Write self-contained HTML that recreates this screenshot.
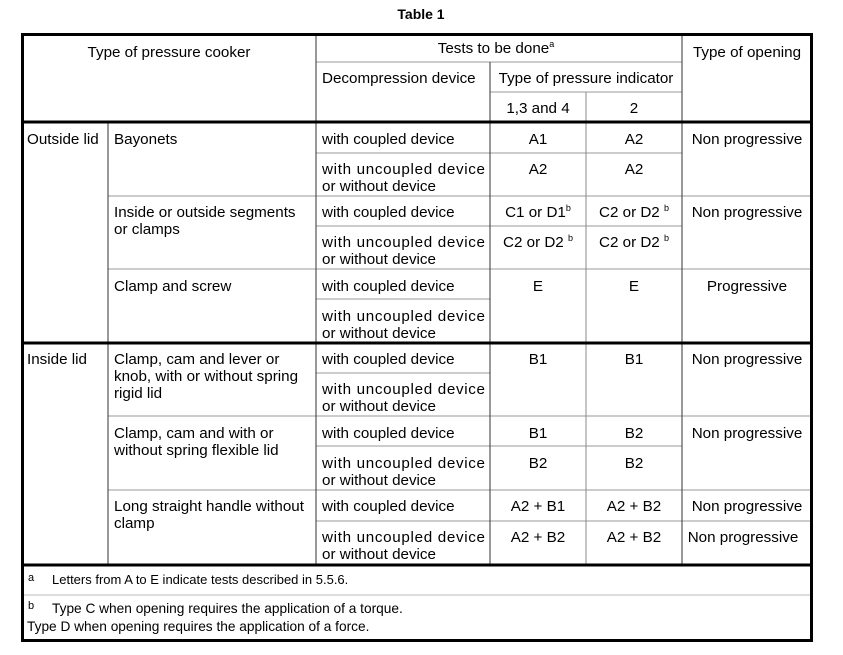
<!DOCTYPE html>
<html><head><style>
html,body{margin:0;padding:0;background:#fff;}
svg{display:block;}
text{font-family:"Liberation Sans",Arial,sans-serif;font-size:15.2px;fill:#000;}
.m{text-anchor:middle;}
.s{font-size:9px;}
.f{font-size:13.7px;}
</style></head><body>
<svg width="843" height="655" viewBox="0 0 843 655" xmlns="http://www.w3.org/2000/svg">
<text x="421" y="19" class="m" style="font-weight:bold;font-size:14px">Table 1</text>
<g stroke="#999" stroke-width="1">
<line x1="316" y1="62" x2="682" y2="62"/>
<line x1="490" y1="92" x2="682" y2="92"/>
<line x1="316" y1="153" x2="682" y2="153"/>
<line x1="108" y1="196" x2="812" y2="196"/>
<line x1="316" y1="226" x2="682" y2="226"/>
<line x1="108" y1="269" x2="812" y2="269"/>
<line x1="316" y1="299" x2="490" y2="299"/>
<line x1="316" y1="373" x2="490" y2="373"/>
<line x1="108" y1="416" x2="812" y2="416"/>
<line x1="316" y1="446" x2="682" y2="446"/>
<line x1="108" y1="490" x2="812" y2="490"/>
<line x1="316" y1="521" x2="812" y2="521"/>
<line x1="22" y1="595" x2="812" y2="595" stroke="#bbb"/>
</g>
<g stroke="#333" stroke-width="1">
<line x1="108" y1="122" x2="108" y2="565"/>
<line x1="316" y1="33" x2="316" y2="565"/>
<line x1="490" y1="62" x2="490" y2="565"/>
<line x1="586" y1="92" x2="586" y2="565" stroke="#888"/>
<line x1="682" y1="33" x2="682" y2="565"/>
</g>
<g stroke="#000" stroke-width="3" fill="none">
<rect x="22.5" y="34.5" width="789" height="606"/>
<line x1="22" y1="122" x2="812" y2="122"/>
<line x1="22" y1="343" x2="812" y2="343"/>
<line x1="22" y1="565" x2="812" y2="565"/>
</g>
<text x="169" y="57" class="m">Type of pressure cooker</text>
<text x="496" y="53" class="m">Tests to be done<tspan class="s" dy="-6">a</tspan></text>
<text x="747" y="57" class="m">Type of opening</text>
<text x="322" y="83">Decompression device</text>
<text x="586" y="83" class="m">Type of pressure indicator</text>
<text x="538" y="113" class="m">1,3 and 4</text>
<text x="634" y="113" class="m">2</text>
<text x="27" y="144">Outside lid</text>
<text x="114" y="144">Bayonets</text>
<text x="114" y="217">Inside or outside segments</text>
<text x="114" y="234">or clamps</text>
<text x="114" y="291">Clamp and screw</text>
<text x="27" y="364">Inside lid</text>
<text x="114" y="364">Clamp, cam and lever or</text>
<text x="114" y="381">knob, with or without spring</text>
<text x="114" y="398">rigid lid</text>
<text x="114" y="438">Clamp, cam and with or</text>
<text x="114" y="455">without spring flexible lid</text>
<text x="114" y="511">Long straight handle without</text>
<text x="114" y="528">clamp</text>
<g>
<text x="322" y="144">with coupled device</text>
<text x="322" y="174" textLength="163" lengthAdjust="spacing">with uncoupled device</text>
<text x="322" y="191">or without device</text>
<text x="322" y="217">with coupled device</text>
<text x="322" y="247" textLength="163" lengthAdjust="spacing">with uncoupled device</text>
<text x="322" y="264">or without device</text>
<text x="322" y="291">with coupled device</text>
<text x="322" y="321" textLength="163" lengthAdjust="spacing">with uncoupled device</text>
<text x="322" y="338">or without device</text>
<text x="322" y="364">with coupled device</text>
<text x="322" y="394" textLength="163" lengthAdjust="spacing">with uncoupled device</text>
<text x="322" y="411">or without device</text>
<text x="322" y="438">with coupled device</text>
<text x="322" y="468" textLength="163" lengthAdjust="spacing">with uncoupled device</text>
<text x="322" y="485">or without device</text>
<text x="322" y="511">with coupled device</text>
<text x="322" y="542" textLength="163" lengthAdjust="spacing">with uncoupled device</text>
<text x="322" y="559">or without device</text>
</g>
<g>
<text x="538" y="144" class="m">A1</text><text x="634" y="144" class="m">A2</text>
<text x="538" y="174" class="m">A2</text><text x="634" y="174" class="m">A2</text>
<text x="538" y="217" class="m">C1 or D1<tspan class="s" dy="-6">b</tspan></text>
<text x="634" y="217" class="m">C2 or D2 <tspan class="s" dy="-6">b</tspan></text>
<text x="538" y="247" class="m">C2 or D2 <tspan class="s" dy="-6">b</tspan></text>
<text x="634" y="247" class="m">C2 or D2 <tspan class="s" dy="-6">b</tspan></text>
<text x="538" y="291" class="m">E</text><text x="634" y="291" class="m">E</text>
<text x="538" y="364" class="m">B1</text><text x="634" y="364" class="m">B1</text>
<text x="538" y="438" class="m">B1</text><text x="634" y="438" class="m">B2</text>
<text x="538" y="468" class="m">B2</text><text x="634" y="468" class="m">B2</text>
<text x="538" y="511" class="m">A2 + B1</text><text x="634" y="511" class="m">A2 + B2</text>
<text x="538" y="542" class="m">A2 + B2</text><text x="634" y="542" class="m">A2 + B2</text>
<text x="747" y="144" class="m">Non progressive</text>
<text x="747" y="217" class="m">Non progressive</text>
<text x="747" y="291" class="m">Progressive</text>
<text x="747" y="364" class="m">Non progressive</text>
<text x="747" y="438" class="m">Non progressive</text>
<text x="747" y="511" class="m">Non progressive</text>
<text x="743" y="542" class="m">Non progressive</text>
</g>
<text x="28" y="581" style="font-size:11px">a</text>
<text x="52" y="584" style="font-size:13px">Letters from A to E indicate tests described in 5.5.6.</text>
<text x="28" y="609" style="font-size:11px">b</text>
<text x="52" y="613" class="f">Type C when opening requires the application of a torque.</text>
<text x="27" y="631" class="f">Type D when opening requires the application of a force.</text>
</svg>
</body></html>
